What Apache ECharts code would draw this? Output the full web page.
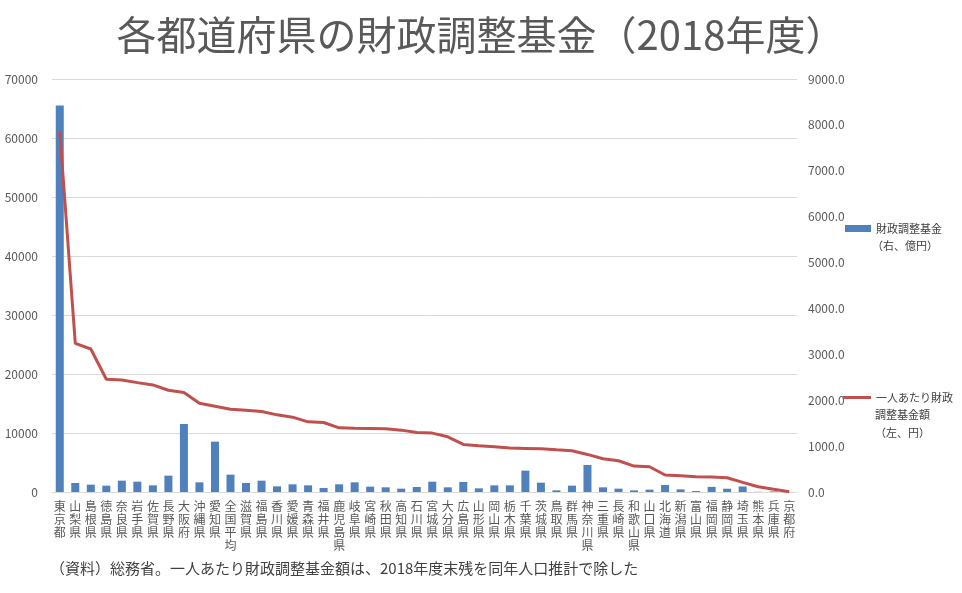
<!DOCTYPE html>
<html>
<head>
<meta charset="utf-8">
<script src="https://cdn.jsdelivr.net/npm/echarts@6/dist/echarts.min.js"></script>
<style>
html,body{margin:0;padding:0;background:#fff;}
#c{width:962px;height:593px;}
</style>
</head>
<body>
<div id="c"></div>
<script>
var categories = ['東京都','山梨県','島根県','徳島県','奈良県','岩手県','佐賀県','長野県','大阪府','沖縄県','愛知県','全国平均','滋賀県','福島県','香川県','愛媛県','青森県','福井県','鹿児島県','岐阜県','宮崎県','秋田県','高知県','石川県','宮城県','大分県','広島県','山形県','岡山県','栃木県','千葉県','茨城県','鳥取県','群馬県','神奈川県','三重県','長崎県','和歌山県','山口県','北海道','新潟県','富山県','福岡県','静岡県','埼玉県','熊本県','兵庫県','京都府'];
// 財政調整基金（億円、右軸）
var fundOku = [8425,196,160,138,247,225,145,356,1482,211,1097,378,196,247,123,167,145,87,167,211,116,102,73,109,225,102,219,80,145,145,465,203,36,138,589,102,73,36,51,153,58,22,112,72,120,4,13,1];
// 一人あたり財政調整基金額（円、左軸）
var perCapitaYen = [61110,25190,24235,19110,18990,18540,18145,17245,16855,15050,14545,14030,13870,13640,13075,12680,11890,11775,10880,10820,10770,10710,10485,10090,9980,9355,8060,7830,7670,7445,7390,7325,7155,6990,6370,5640,5295,4395,4285,2880,2760,2590,2535,2425,1635,900,450,40];
var leftTicks = [0,10000,20000,30000,40000,50000,60000,70000];
var rightTicks = [0,1000,2000,3000,4000,5000,6000,7000,8000,9000];

var FONT = '"Noto Sans CJK JP","Noto Sans",sans-serif';
var chart = echarts.init(document.getElementById('c'));
chart.setOption({
  animation:false,
  backgroundColor:'#ffffff',
  textStyle:{fontFamily:FONT},
  title:{
    text:'各都道府県の財政調整基金（2018年度）',
    left:'center', top:10,
    textStyle:{fontSize:40,fontWeight:'normal',color:'#595959',fontFamily:FONT}
  },
  graphic:[{
    type:'text', left:50, top:561,
    style:{text:'（資料）総務省。一人あたり財政調整基金額は、2018年度末残を同年人口推計で除した',
      fontSize:15, fill:'#404040', fontFamily:FONT}
  },{
    type:'text', left:872, top:237,
    style:{text:'（右、億円）', fontSize:11, lineHeight:18, fill:'#404040', fontFamily:FONT}
  },{
    type:'text', left:875, top:406,
    style:{text:'調整基金額\n（左、円）', fontSize:11, lineHeight:18, fill:'#404040', fontFamily:FONT}
  }],
  legend:[{
    data:['財政調整基金'],
    orient:'vertical', left:840, top:218,
    itemWidth:26, itemHeight:7, itemGap:2, icon:'rect',
    textStyle:{fontSize:11,color:'#404040'}
  },{
    data:['一人あたり財政調整基金額'],
    orient:'vertical', left:838, top:387,
    itemWidth:28, itemHeight:3, itemGap:2, icon:'rect',
    formatter:function(){return '一人あたり財政';},
    textStyle:{fontSize:11,color:'#404040'}
  }],
  grid:{left:52,right:165,top:79,bottom:101,containLabel:false},
  xAxis:{
    type:'category', data:categories,
    axisLine:{lineStyle:{color:'#d9d9d9'}},
    axisTick:{show:false},
    axisLabel:{interval:0,color:'#595959',fontSize:12,lineHeight:13,margin:8,
      formatter:function(v){return v.split('').join('\n');}}
  },
  yAxis:[{
    type:'value', min:0, max:70000, interval:10000, position:'left',
    axisLine:{show:false}, axisTick:{show:false},
    axisLabel:{color:'#595959',fontSize:12,margin:14,
      formatter:function(v){return String(v);}},
    splitLine:{lineStyle:{color:'#d9d9d9'}}
  },{
    type:'value', min:0, max:9000, interval:1000, position:'right',
    axisLine:{show:false}, axisTick:{show:false},
    axisLabel:{color:'#595959',fontSize:12,margin:11,
      formatter:function(v){return v.toFixed(1);}},
    splitLine:{show:false}
  }],
  series:[{
    name:'財政調整基金', type:'bar', yAxisIndex:1, data:fundOku,
    barWidth:8, itemStyle:{color:'#4F81BD'}
  },{
    name:'一人あたり財政調整基金額', type:'line', yAxisIndex:0, data:perCapitaYen,
    symbol:'none', lineStyle:{color:'#C0504D',width:3}, itemStyle:{color:'#C0504D'}
  }]
});
</script>
</body>
</html>
